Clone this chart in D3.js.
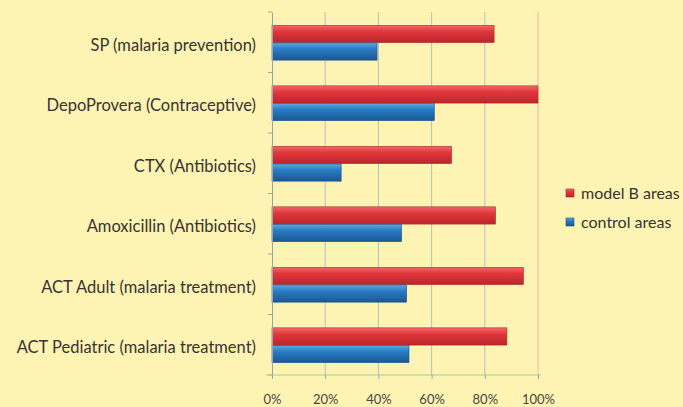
<!DOCTYPE html>
<html>
<head>
<meta charset="utf-8">
<script src="https://cdn.jsdelivr.net/npm/d3@7"></script>
<style>
  body { margin: 0; background: #fdf4b3; }
  svg { display: block; }
  svg text { font-family: 'Lato', 'Open Sans', sans-serif; }
</style>
</head>
<body>
<script>
const categories = [
  'SP (malaria prevention)',
  'DepoProvera (Contraceptive)',
  'CTX (Antibiotics)',
  'Amoxicillin (Antibiotics)',
  'ACT Adult (malaria treatment)',
  'ACT Pediatric (malaria treatment)',
];
const modelB = [0.835, 1.0, 0.675, 0.84, 0.945, 0.883];
const control = [0.395, 0.61, 0.26, 0.487, 0.506, 0.515];
const seriesNames = ['model B areas', 'control areas'];
const xTicks = [0, 0.2, 0.4, 0.6, 0.8, 1.0];

const W = 683, H = 407;
const margin = { top: 12, right: 145, bottom: 32, left: 272 };
const width = 538 - margin.left;
const height = 375 - margin.top;

const svg = d3.select('body').append('svg')
  .attr('width', W)
  .attr('height', H);

const defs = svg.append('defs');
const grad = (id, c1, c2, c3) => {
  const g = defs.append('linearGradient').attr('id', id)
    .attr('x1', 0).attr('y1', 0).attr('x2', 0).attr('y2', 1);
  g.append('stop').attr('offset', '0%').attr('stop-color', c1);
  g.append('stop').attr('offset', '35%').attr('stop-color', c2);
  g.append('stop').attr('offset', '100%').attr('stop-color', c3);
};
grad('gRed', '#f2686b', '#e2373b', '#b8262b');
grad('gBlue', '#5ea9e0', '#2a7cc4', '#1a5795');

const g = svg.append('g')
  .attr('transform', `translate(${margin.left}, ${margin.top})`);

const x = d3.scaleLinear().domain([0, 1]).range([0, width]);
const y = d3.scaleBand().domain(categories).range([0, height]);
const inner = d3.scaleBand().domain(seriesNames).range([13, y.bandwidth() - 12]).padding(0.02);

// gridlines
g.selectAll('.grid')
  .data(xTicks.slice(1))
  .enter().append('line')
  .attr('x1', d => x(d))
  .attr('x2', d => x(d))
  .attr('y1', 0)
  .attr('y2', height)
  .attr('stroke', d => d === 1 ? '#ecb3ad' : '#b4bfca')
  .attr('stroke-width', 1);

// bars
const colors = { 'model B areas': 'url(#gRed)', 'control areas': 'url(#gBlue)' };
const edge = { 'model B areas': '#a8252a', 'control areas': '#1b4f85' };
const rows = categories.map((c, i) => ({ c, vals: [modelB[i], control[i]] }));

const grp = g.selectAll('.row')
  .data(rows)
  .enter().append('g')
  .attr('transform', d => `translate(0, ${y(d.c)})`);

grp.selectAll('rect')
  .data(d => d.vals.map((v, j) => ({ s: seriesNames[j], v })))
  .enter().append('rect')
  .attr('x', 0)
  .attr('y', d => inner(d.s))
  .attr('width', d => x(d.v))
  .attr('height', inner.bandwidth())
  .attr('fill', d => colors[d.s])
  .attr('stroke', d => edge[d.s])
  .attr('stroke-width', 0.6);

// left axis
const yAxis = g.append('g')
  .call(d3.axisLeft(y).tickSize(0).tickPadding(16));
yAxis.select('.domain').attr('stroke', '#9aa3ad');
yAxis.selectAll('text')
  .attr('font-size', 16.5)
  .attr('fill', '#3a3232')
  .attr('dy', '0.5em');

g.selectAll('.ytick')
  .data(d3.range(categories.length + 1))
  .enter().append('line')
  .attr('x1', -4).attr('x2', 0)
  .attr('y1', d => d * y.step())
  .attr('y2', d => d * y.step())
  .attr('stroke', '#9aa3ad');

// bottom axis
const xAxis = g.append('g')
  .attr('transform', `translate(0, ${height})`)
  .call(d3.axisBottom(x).tickValues(xTicks).tickFormat(d3.format('.0%')).tickSize(4).tickPadding(16));
xAxis.select('.domain').attr('stroke', '#9fcf8f').attr('d', `M-6,0H${width + 3}`);
xAxis.selectAll('.tick line').attr('stroke', '#9aa3ad');
xAxis.selectAll('text')
  .attr('font-size', 13)
  .attr('fill', '#4a4444');

// legend
const legend = svg.append('g')
  .attr('transform', 'translate(566, 189)');
const li = legend.selectAll('g')
  .data(seriesNames)
  .enter().append('g')
  .attr('transform', (d, i) => `translate(0, ${i * 29})`);
li.append('rect')
  .attr('width', 8).attr('height', 8)
  .attr('fill', d => colors[d])
  .attr('stroke', d => edge[d]).attr('stroke-width', 0.6);
li.append('text')
  .attr('x', 15).attr('y', 4)
  .attr('dy', '0.35em')
  .attr('font-size', 16)
  .attr('fill', '#3a3232')
  .text(d => d);
</script>
</body>
</html>
